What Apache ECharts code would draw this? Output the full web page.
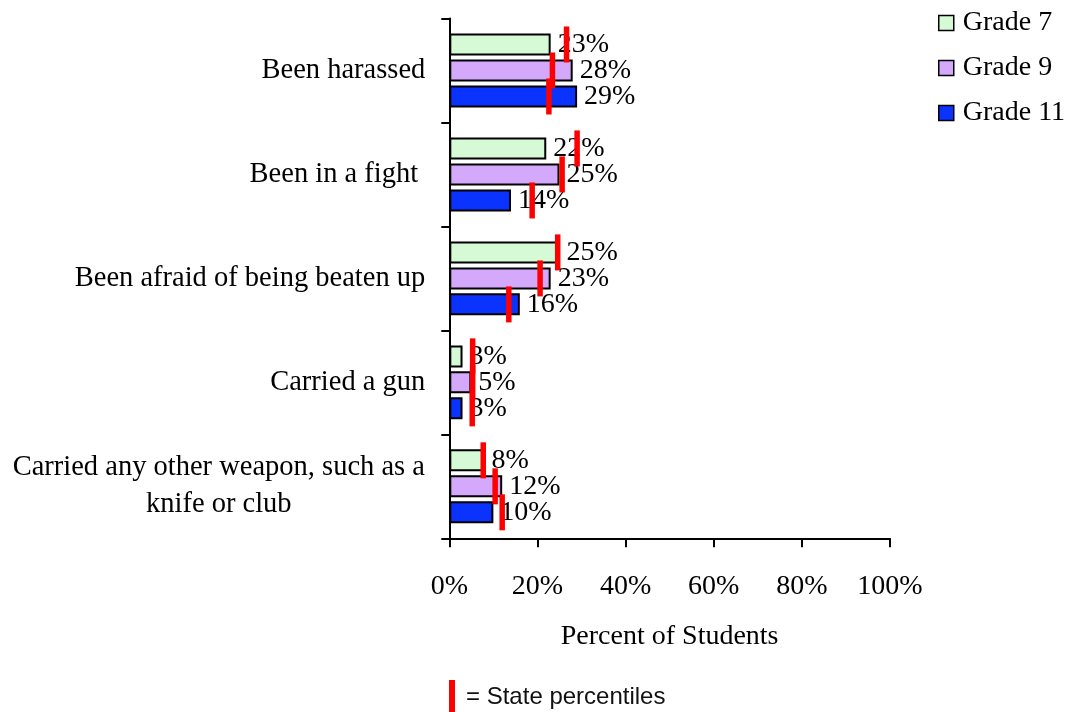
<!DOCTYPE html>
<html>
<head>
<meta charset="utf-8">
<script src="https://cdn.jsdelivr.net/npm/echarts@6/dist/echarts.min.js"></script>
<style>
html,body{margin:0;padding:0;background:#fff;}
#chart{width:1069px;height:712px;}
</style>
</head>
<body>
<div id="chart"></div>
<script>
const categories = ['Been harassed', 'Been in a fight ', 'Been afraid of being beaten up', 'Carried a gun', 'Carried any other weapon, such as a\nknife or club'];
const seriesNames = ['Grade 7', 'Grade 9', 'Grade 11'];
const grade7 = [23, 22, 25, 3, 8];
const grade9 = [28, 25, 23, 5, 12];
const grade11 = [29, 14, 16, 3, 10];
const state7 = [26.6, 29.0, 24.6, 5.3, 7.7];
const state9 = [23.4, 25.6, 20.6, 5.3, 10.4];
const state11 = [22.6, 18.8, 13.5, 5.2, 12.0];
const noteText = '= State percentiles';
const axisName = 'Percent of Students';

const SERIF = '"Liberation Serif", "Times New Roman", serif';
const SANS = '"Liberation Sans", Arial, sans-serif';
const FS = 28;
const CAT_FS = 28.5;
const colors = ['#d5fad5', '#d4a9fb', '#0a33ff'];

// measure longest line of multi-line labels so lines can be centered
const cv = document.createElement('canvas').getContext('2d');
cv.font = CAT_FS + 'px "Liberation Serif"';
let maxW = 0;
categories.forEach(c => c.split('\n').forEach(l => { maxW = Math.max(maxW, cv.measureText(l).width); }));

const chart = echarts.init(document.getElementById('chart'), null, {renderer: 'canvas'});

const barWidth = 22;
const offsets = [-26, 0, 26];
const gradeData = [grade7, grade9, grade11];
const stateData = [state7, state9, state11];

const series = [];
gradeData.forEach((d, i) => {
  series.push({
    name: seriesNames[i],
    type: 'bar',
    data: d,
    barWidth: barWidth,
    barGap: '18%',
    z: 2,
    itemStyle: {color: colors[i], borderColor: '#000', borderWidth: 2},
    label: {
      show: true, position: 'right', distance: 7,
      formatter: p => p.value + '%',
      fontFamily: SERIF, fontSize: FS, color: '#000'
    }
  });
});
stateData.forEach((d, i) => {
  series.push({
    name: 'state' + i,
    type: 'scatter',
    data: d.map((v, k) => [v, k]),
    symbol: 'rect',
    symbolSize: [5.5, 36],
    symbolOffset: [0, offsets[i]],
    itemStyle: {color: '#ff0000', opacity: 1},
    z: 10,
    silent: true
  });
});

const option = {
  animation: false,
  backgroundColor: '#fff',
  grid: {left: 449.3, right: 179, top: 18.5, bottom: 173.7, containLabel: false},
  legend: {
    data: seriesNames,
    orient: 'vertical',
    icon: 'rect',
    left: 938, top: 9, padding: 0,
    itemWidth: 15, itemHeight: 15, itemGap: 17,
    textStyle: {fontFamily: SERIF, fontSize: FS, color: '#000', lineHeight: 28, padding: [0, 0, 0, 4]},
    itemStyle: {borderColor: '#000', borderWidth: 1.5}
  },
  xAxis: {
    type: 'value', min: 0, max: 100, interval: 20,
    splitLine: {show: false},
    axisLine: {show: true, lineStyle: {color: '#000', width: 2}},
    axisTick: {show: true, length: 9, lineStyle: {color: '#000', width: 2}},
    axisLabel: {formatter: '{value}%', fontFamily: SERIF, fontSize: FS, color: '#000', margin: 34},
    name: axisName, nameLocation: 'middle', nameGap: 84,
    nameTextStyle: {fontFamily: SERIF, fontSize: FS, color: '#000'}
  },
  yAxis: {
    type: 'category', data: categories, inverse: true,
    axisLine: {show: true, lineStyle: {color: '#000', width: 2}},
    axisTick: {show: true, length: 8, lineStyle: {color: '#000', width: 2}},
    axisLabel: {
      fontFamily: SERIF, fontSize: CAT_FS, color: '#000', margin: 24, lineHeight: 37,
      formatter: v => v.indexOf('\n') >= 0 ? v.split('\n').map(l => '{c|' + l + '}').join('\n') : v,
      rich: {c: {width: Math.ceil(maxW), align: 'center', fontFamily: SERIF, fontSize: CAT_FS, color: '#000', lineHeight: 37}}
    }
  },
  graphic: [
    {type: 'rect', left: 449, top: 680, shape: {width: 6, height: 32}, style: {fill: '#ff0000'}},
    {type: 'text', left: 466, top: 685, style: {text: noteText, font: '24px ' + SANS, fill: '#111'}}
  ],
  series: series
};
chart.setOption(option);
</script>
</body>
</html>
